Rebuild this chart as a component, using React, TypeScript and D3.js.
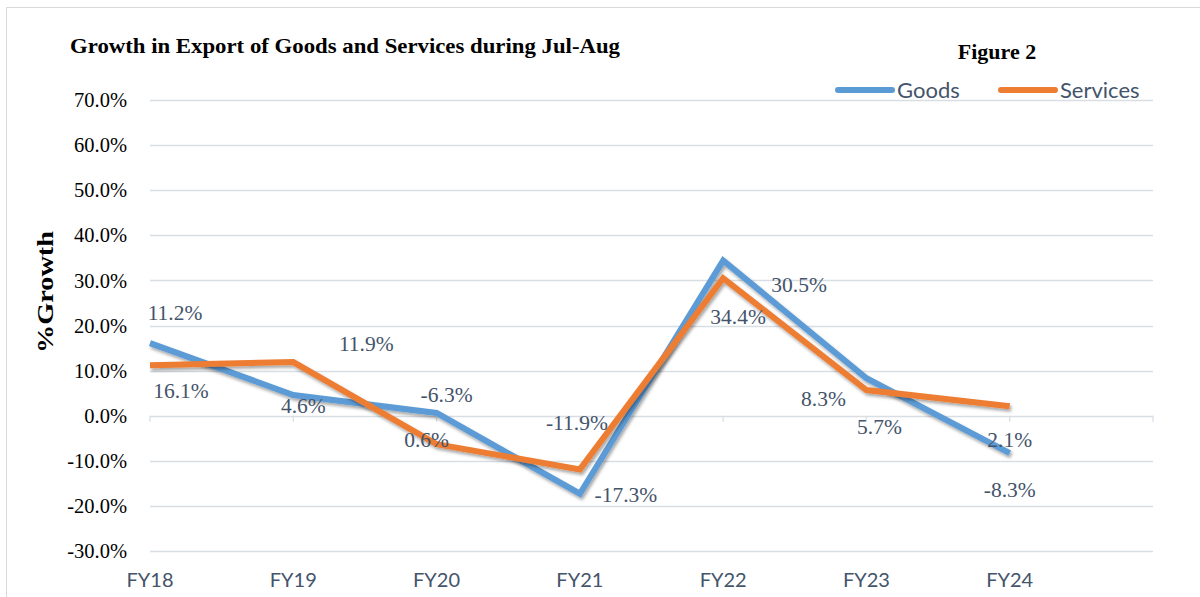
import React, { useEffect, useRef } from "react";
import * as d3 from "d3";

const years = ["FY18", "FY19", "FY20", "FY21", "FY22", "FY23", "FY24"];
const goods = [16.1, 4.6, 0.6, -17.3, 34.4, 8.3, -8.3];
const services = [11.2, 11.9, -6.3, -11.9, 30.5, 5.7, 2.1];
const yTicks = [70, 60, 50, 40, 30, 20, 10, 0, -10, -20, -30];

// label offsets (px) from each point, mimicking the original placement
const goodsLabelOffset = [[31, 47], [10, 11], [-10, 26], [46, 1], [15, 56], [-43, 20], [0, 36]];
const servicesLabelOffset = [[25, -53], [73, -19], [10, -50], [-3, -47], [76, 6], [13, 36], [0, 33]];

const W = 1200;
const H = 597;
const margin = { top: 100, right: 47, bottom: 46, left: 150 };

const BLUE = "#5B9BD5";
const ORANGE = "#ED7D31";
const LABEL = "#44546A";
const SERIF = "'Liberation Serif', 'DejaVu Serif', serif";
const SANS = "Lato, 'Open Sans', sans-serif";

export default function App() {
    const ref = useRef<SVGSVGElement>(null);

    useEffect(() => {
        const svg = d3.select(ref.current);
        svg.selectAll("*").remove();

        const x = d3.scalePoint<string>()
            .domain([...years, ""])
            .range([margin.left, W - margin.right]);

        const y = d3.scaleLinear()
            .domain([-30, 70])
            .range([H - margin.bottom, margin.top]);

        const defs = svg.append("defs");
        const f = defs.append("filter").attr("id", "shadow")
            .attr("x", "-10%").attr("y", "-10%").attr("width", "120%").attr("height", "130%");
        f.append("feDropShadow")
            .attr("dx", 1.5).attr("dy", 2.5).attr("stdDeviation", 1.5)
            .attr("flood-color", "#000").attr("flood-opacity", 0.35);

        // border
        svg.append("rect")
            .attr("x", 6.5).attr("y", 7.5)
            .attr("width", W).attr("height", H)
            .attr("fill", "#fff")
            .attr("stroke", "#d9d9d9");

        // gridlines
        svg.append("g")
            .selectAll("line")
            .data(yTicks)
            .enter()
            .append("line")
            .attr("x1", margin.left)
            .attr("x2", W - margin.right)
            .attr("y1", d => Math.round(y(d)) + 0.5)
            .attr("y2", d => Math.round(y(d)) + 0.5)
            .attr("stroke", "#d9dde4")
            .attr("stroke-width", 1.3);

        // category ticks on zero line
        svg.append("g")
            .selectAll("line")
            .data([...years, ""])
            .enter()
            .append("line")
            .attr("x1", d => x(d)!)
            .attr("x2", d => x(d)!)
            .attr("y1", y(0))
            .attr("y2", y(0) + 6)
            .attr("stroke", "#d9dde4")
            .attr("stroke-width", 1.3);

        // y tick labels
        svg.append("g")
            .selectAll("text")
            .data(yTicks)
            .enter()
            .append("text")
            .attr("x", 127)
            .attr("y", d => y(d))
            .attr("dy", "0.35em")
            .attr("text-anchor", "end")
            .attr("font-family", SERIF)
            .attr("font-size", 20.5)
            .attr("fill", "#000")
            .text(d => d.toFixed(1) + "%");

        // x tick labels
        svg.append("g")
            .selectAll("text")
            .data(years)
            .enter()
            .append("text")
            .attr("x", d => x(d)!)
            .attr("y", 587)
            .attr("text-anchor", "middle")
            .attr("font-family", SANS)
            .attr("font-size", 20)
            .attr("fill", LABEL)
            .text(d => d);

        // lines
        const line = d3.line<number>()
            .x((d, i) => x(years[i])!)
            .y(d => y(d));

        const series = [
            { values: goods, color: BLUE, offsets: goodsLabelOffset },
            { values: services, color: ORANGE, offsets: servicesLabelOffset }
        ];

        series.forEach(s => {
            svg.append("path")
                .datum(s.values)
                .attr("d", line)
                .attr("fill", "none")
                .attr("stroke", s.color)
                .attr("stroke-width", 6)
                .attr("stroke-linejoin", "miter")
                .attr("filter", "url(#shadow)");
        });

        // data labels
        series.forEach(s => {
            svg.append("g")
                .selectAll("text")
                .data(s.values)
                .enter()
                .append("text")
                .attr("x", (d, i) => x(years[i])! + s.offsets[i][0])
                .attr("y", (d, i) => y(d) + s.offsets[i][1])
                .attr("dy", "0.35em")
                .attr("text-anchor", "middle")
                .attr("font-family", SERIF)
                .attr("font-size", 21.5)
                .attr("fill", LABEL)
                .text(d => d.toFixed(1) + "%");
        });

        // title
        svg.append("text")
            .attr("x", 70)
            .attr("y", 53)
            .attr("font-family", SERIF)
            .attr("font-size", 21.5)
            .attr("font-weight", "bold")
            .attr("fill", "#000")
            .attr("textLength", 550)
            .attr("lengthAdjust", "spacingAndGlyphs")
            .text("Growth in Export of Goods and Services during Jul-Aug");

        svg.append("text")
            .attr("x", 997)
            .attr("y", 59)
            .attr("text-anchor", "middle")
            .attr("font-family", SERIF)
            .attr("font-size", 22)
            .attr("font-weight", "bold")
            .attr("fill", "#000")
            .text("Figure 2");

        // y axis title
        svg.append("text")
            .attr("transform", `translate(53, 292) rotate(-90)`)
            .attr("text-anchor", "middle")
            .attr("font-family", SERIF)
            .attr("font-size", 24)
            .attr("font-weight", "bold")
            .attr("fill", "#000")
            .attr("textLength", 122)
            .attr("lengthAdjust", "spacingAndGlyphs")
            .text("%Growth");

        // legend
        const legend = [
            { name: "Goods", color: BLUE, x: 838 },
            { name: "Services", color: ORANGE, x: 1001 }
        ];
        const lg = svg.append("g");
        legend.forEach(l => {
            lg.append("line")
                .attr("x1", l.x).attr("x2", l.x + 54)
                .attr("y1", 90).attr("y2", 90)
                .attr("stroke", l.color)
                .attr("stroke-width", 6)
                .attr("stroke-linecap", "round");
            lg.append("text")
                .attr("x", l.x + 59)
                .attr("y", 90)
                .attr("dy", "0.35em")
                .attr("font-family", SANS)
                .attr("font-size", 22)
                .attr("fill", LABEL)
                .text(l.name);
        });
    }, []);

    return (
        <svg
            ref={ref}
            width={W}
            height={H}
            style={{ position: "absolute", left: 0, top: 0, background: "#fff" }}
        />
    );
}
